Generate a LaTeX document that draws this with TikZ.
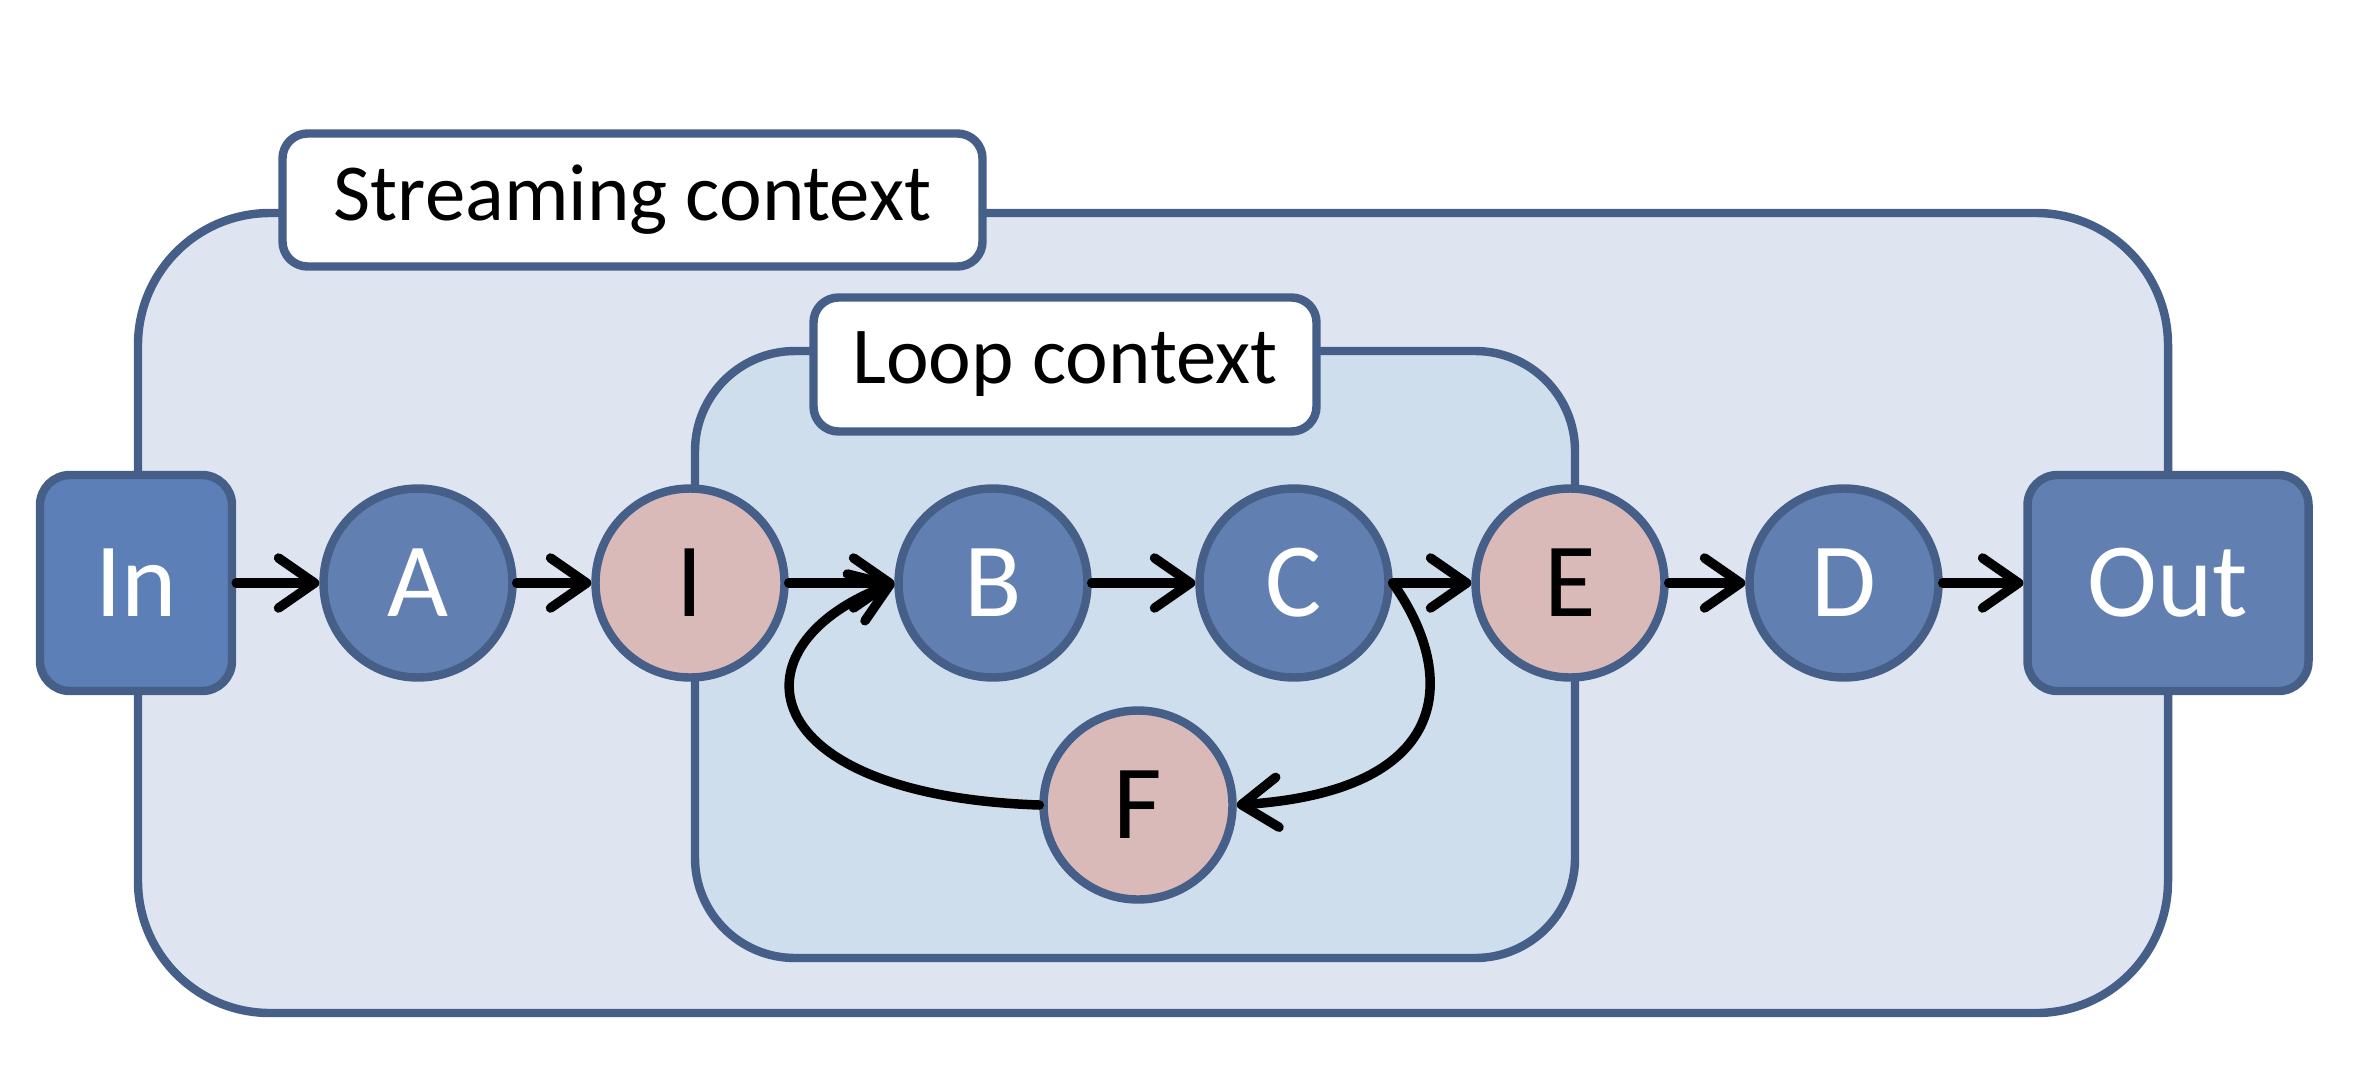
\documentclass[tikz,border=0pt]{standalone}
\usepackage{fontspec}
\setmainfont{Carlito}
\usepackage{xcolor}
\usepackage{tikz}
\usetikzlibrary{arrows.meta, positioning}

\definecolor{edgeblue}{RGB}{70,95,136}
\definecolor{streamfill}{RGB}{222,229,240}
\definecolor{loopfill}{RGB}{207,222,236}
\definecolor{opblue}{RGB}{97,128,177}
\definecolor{inblue}{RGB}{91,127,182}
\definecolor{ctlpink}{RGB}{218,186,184}

\begin{document}
\begin{tikzpicture}[
    node distance = 2.75cm,
    ctx/.style = {draw=edgeblue, line width=2.4pt},
    tag/.style = {rectangle, draw=edgeblue, fill=white, line width=2.4pt, rounded corners=0.25cm, align=center, font=\fontsize{23}{27}\selectfont},
    op/.style = {circle, draw=edgeblue, fill=opblue, line width=2.4pt, minimum size=1.89cm, inner sep=0pt, text=white, font=\fontsize{30}{36}\selectfont},
    ctl/.style = {op, fill=ctlpink, text=black},
    io/.style = {rectangle, draw=edgeblue, fill=opblue, line width=2.4pt, rounded corners=0.3cm, minimum height=2.16cm, text=white, font=\fontsize{30}{36}\selectfont},
    arrow/.style = {line width=2.7pt, line cap=round, -{Straight Barb[length=3.6mm, width=5mm, line join=round, line cap=round]}}
]
\useasboundingbox (0,0) rectangle (23.74,10.90);

% Contexts
\draw [ctx, fill=streamfill, rounded corners=1.32cm] (1.38,0.77) rectangle (21.68,8.77);
\node (stream) [tag, minimum width=7.0cm, minimum height=1.33cm] at (6.325,8.90) {Streaming context};
\draw [ctx, fill=loopfill, rounded corners=1.0cm] (6.95,1.32) rectangle (15.75,7.39);
\node (loop) [tag, minimum width=5.03cm, minimum height=1.34cm] at (10.65,7.255) {Loop context};

% Nodes in a row
\node (in) [io, fill=inblue, minimum width=1.92cm] at (1.36,5.07) {In};
\node (a) [op, right of=in, xshift=0.07cm] {A};
\node (i) [ctl, right of=a, xshift=-0.03cm] {I};
\node (b) [op, right of=i, xshift=0.28cm] {B};
\node (c) [op, right of=b, xshift=0.26cm] {C};
\node (e) [ctl, right of=c, xshift=0.01cm] {E};
\node (d) [op, right of=e, xshift=-0.01cm] {D};
\node (out) [io, minimum width=2.81cm, right of=d, xshift=0.49cm] {Out};
\node (f) [ctl, below of=b, xshift=1.45cm, yshift=0.53cm] {F};

% Arrows
\draw [arrow] (in) -- (a);
\draw [arrow] (a) -- (i);
\draw [arrow] (i) -- (b);
\draw [arrow] (b) -- (c);
\draw [arrow] (c) -- (e);
\draw [arrow] (e) -- (d);
\draw [arrow] (d) -- (out);
\draw [arrow] (c.east) .. controls (14.55,4.2) and (14.6,3.0) .. (f.east);
\draw [arrow] (f.west) .. controls (7.5,2.95) and (7.3,4.45) .. (b.west);

\end{tikzpicture}
\end{document}
